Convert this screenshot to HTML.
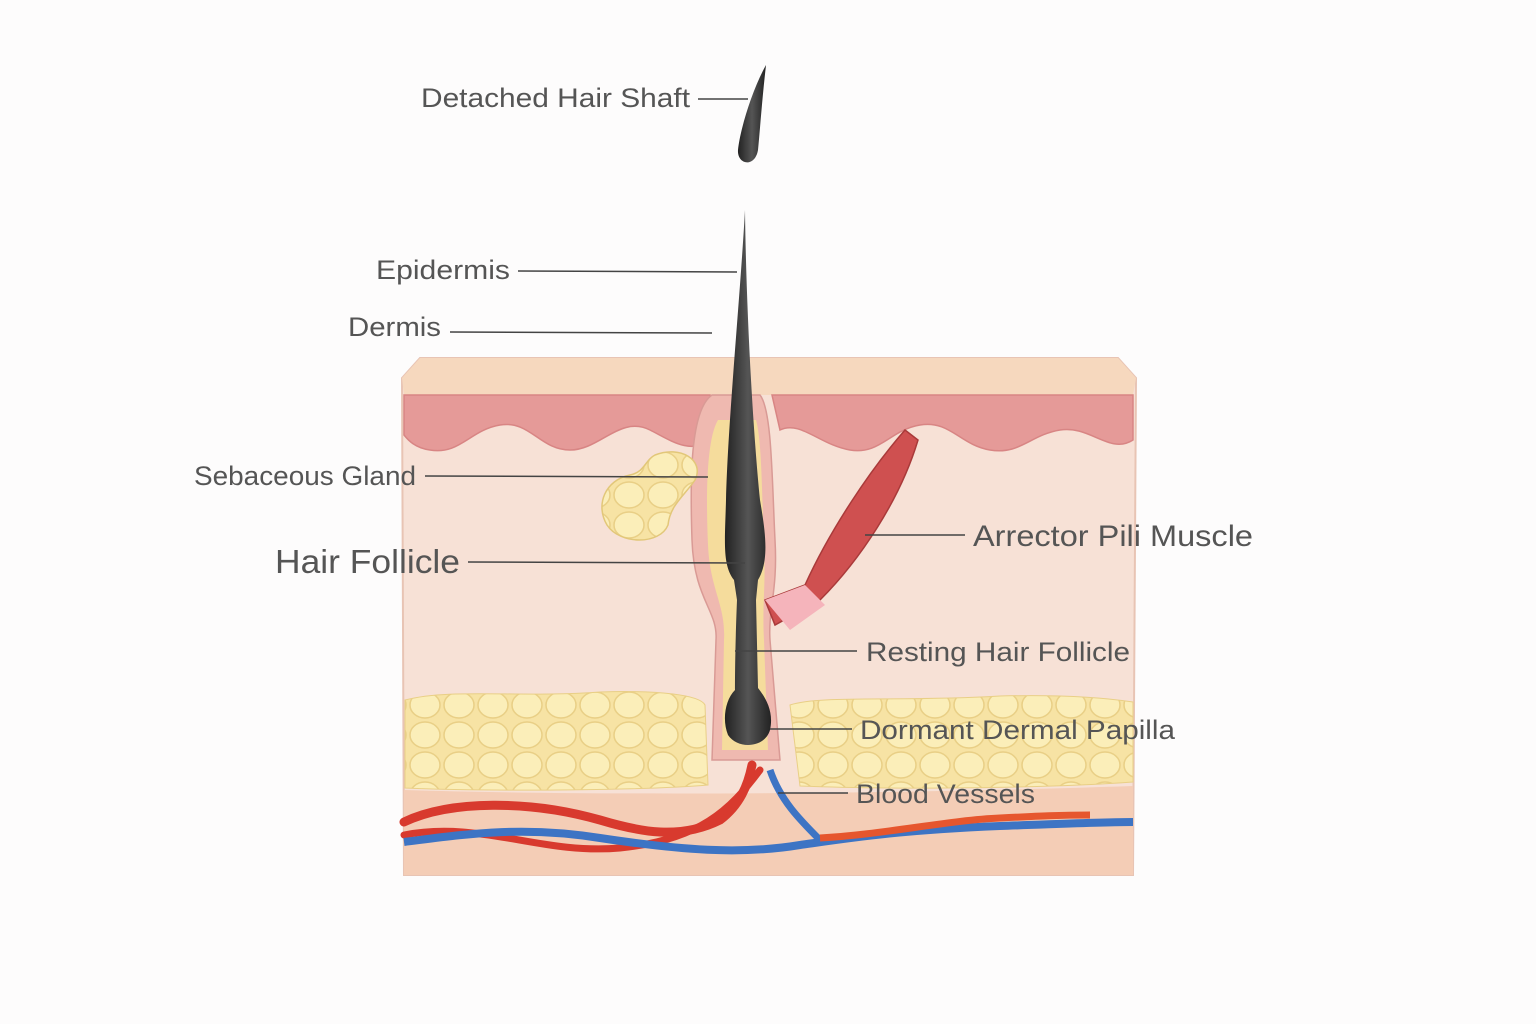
<!DOCTYPE html>
<html><head><meta charset="utf-8"><style>
html,body{margin:0;padding:0;background:#fdfcfc;}
svg{display:block}
text{font-family:"Liberation Sans",sans-serif;fill:#555;}
</style></head><body>
<svg width="1536" height="1024" viewBox="0 0 1536 1024" xmlns="http://www.w3.org/2000/svg">
<defs>
<linearGradient id="hair" x1="0" x2="1" y1="0" y2="0">
<stop offset="0" stop-color="#222"/><stop offset="0.5" stop-color="#555"/><stop offset="1" stop-color="#222"/>
</linearGradient>
<pattern id="fat" width="34" height="30" patternUnits="userSpaceOnUse">
<rect width="34" height="30" fill="#f7e3a4"/>
<ellipse cx="17" cy="15" rx="15" ry="13" fill="#fbeeb9" stroke="#e9cf86" stroke-width="1.5"/>
</pattern>
</defs>
<rect width="1536" height="1024" fill="#fdfcfc"/>
<path d="M402 378 L420 358 L1118 358 L1136 378 L1133 875 L404 875 Z" fill="#f7e1d6" stroke="#e8c4b4" stroke-width="2"/>
<path d="M402 378 L420 358 L1118 358 L1136 378 L1133 395 L404 395 Z" fill="#f6d8be"/>
<path d="M404 395 L710 395 L710 440 C690 455 670 440 650 430 C620 415 600 450 570 450 C540 450 530 420 500 425 C470 430 460 455 430 450 C415 448 408 440 404 435 Z" fill="#e59a98" stroke="#d88584" stroke-width="1.5"/>
<path d="M772 395 L1133 395 L1133 440 C1110 455 1090 425 1060 430 C1030 435 1020 455 990 450 C960 445 950 420 920 425 C890 430 880 455 850 450 C820 445 800 420 780 430 Z" fill="#e59a98" stroke="#d88584" stroke-width="1.5"/>
<path d="M405 700 C450 688 520 698 600 692 C660 690 700 695 705 705 L708 785 C650 790 500 792 405 788 Z" fill="url(#fat)" stroke="#e9cf86"/>
<path d="M790 705 C820 695 900 702 1000 696 C1080 694 1120 700 1133 702 L1133 782 C1050 788 900 790 800 786 Z" fill="url(#fat)" stroke="#e9cf86"/>
<path d="M404 790 C600 796 900 794 1133 786 L1133 875 L404 875 Z" fill="#f4cdb6"/>
<path d="M712 395 C690 410 690 480 692 540 C694 600 718 610 716 640 L712 760 L780 760 L770 640 C768 610 778 590 775 540 C772 480 772 410 760 395 Z" fill="#efb9b0" stroke="#d99a95" stroke-width="1.5"/>
<path d="M718 420 C706 440 706 500 708 545 C710 590 726 605 724 640 L722 750 L768 750 L764 640 C762 605 766 585 764 545 C762 500 762 440 756 420 Z" fill="#f5dc9c"/>
<path d="M655 455 C680 445 705 460 695 480 C685 495 670 505 668 525 C660 545 620 545 607 525 C595 505 605 480 630 475 C645 472 645 460 655 455 Z" fill="url(#fat)" stroke="#e2c779" stroke-width="1.5"/>
<path d="M905 430 L918 440 C900 500 860 560 820 600 L775 625 L765 600 L805 585 C830 530 870 470 905 430 Z" fill="#cf5050" stroke="#a93a3a" stroke-width="1.5"/>
<path d="M765 600 L805 585 L825 605 L790 630 Z" fill="#f5b4bb"/>
<path d="M745 210 C740 300 728 420 726 500 C725 540 722 565 734 580 L737 600 C735 650 735 680 735 690 C725 700 722 720 728 735 C738 750 765 748 770 730 C774 712 766 698 758 688 L756 600 L758 580 C770 560 765 530 760 500 C752 420 746 300 745 210 Z" fill="url(#hair)"/>
<path d="M766 65 C752 90 740 130 738 150 C737 165 755 168 758 150 C760 130 762 100 766 65 Z" fill="url(#hair)"/>
<path d="M404 822 C450 800 530 800 600 820 C640 832 680 840 720 820 C740 805 748 785 752 765" fill="none" stroke="#d83a2e" stroke-width="9" stroke-linecap="round"/>
<path d="M404 835 C480 820 540 855 620 848 C700 840 730 810 760 770" fill="none" stroke="#d83a2e" stroke-width="7" stroke-linecap="round"/>
<path d="M404 842 C460 835 520 825 600 838 C680 850 740 855 800 845 C850 838 900 830 1000 826 C1060 824 1100 822 1133 822" fill="none" stroke="#3d74c4" stroke-width="8"/>
<path d="M770 770 C780 800 800 820 820 840" fill="none" stroke="#3d74c4" stroke-width="7"/>
<path d="M820 838 C880 835 950 820 1000 818 C1040 816 1060 815 1090 815" fill="none" stroke="#e6562e" stroke-width="7"/>
<g stroke="#444" stroke-width="1.5" fill="none">
<line x1="698" y1="99" x2="748" y2="99"/>
<line x1="518" y1="271" x2="737" y2="272"/>
<line x1="450" y1="332" x2="712" y2="333"/>
<line x1="425" y1="476" x2="708" y2="477"/>
<line x1="468" y1="562" x2="745" y2="563"/>
<line x1="865" y1="535" x2="965" y2="535"/>
<line x1="735" y1="651" x2="857" y2="651"/>
<line x1="770" y1="729" x2="852" y2="729"/>
<line x1="778" y1="793" x2="848" y2="793"/>
</g>
<text x="421" y="107" font-size="27" textLength="269" lengthAdjust="spacingAndGlyphs">Detached Hair Shaft</text>
<text x="376" y="279" font-size="27" textLength="134" lengthAdjust="spacingAndGlyphs">Epidermis</text>
<text x="348" y="336" font-size="27" textLength="93" lengthAdjust="spacingAndGlyphs">Dermis</text>
<text x="194" y="485" font-size="27" textLength="222" lengthAdjust="spacingAndGlyphs">Sebaceous Gland</text>
<text x="275" y="573" font-size="33" textLength="185" lengthAdjust="spacingAndGlyphs">Hair Follicle</text>
<text x="973" y="546" font-size="30" textLength="280" lengthAdjust="spacingAndGlyphs">Arrector Pili Muscle</text>
<text x="866" y="661" font-size="27" textLength="264" lengthAdjust="spacingAndGlyphs">Resting Hair Follicle</text>
<text x="860" y="739" font-size="27" textLength="315" lengthAdjust="spacingAndGlyphs">Dormant Dermal Papilla</text>
<text x="856" y="803" font-size="27" textLength="179" lengthAdjust="spacingAndGlyphs">Blood Vessels</text>
</svg>
</body></html>
